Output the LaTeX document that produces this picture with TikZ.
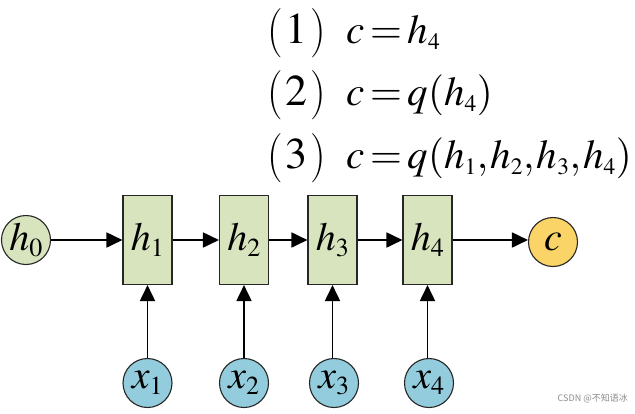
\documentclass[tikz,border=0pt]{standalone}
\usepackage{mathptmx}
\usepackage{fontspec}
\newfontfamily\cjk{Noto Sans CJK SC}
\usetikzlibrary{arrows.meta}
\DeclareMathSizes{44}{44}{26}{20}
\DeclareMathSizes{41}{41}{23.5}{18}
\DeclareMathSizes{40}{40}{26}{19}
\definecolor{cellgreen}{HTML}{D7E4BD}
\definecolor{inblue}{HTML}{93CDDD}
\definecolor{outyellow}{HTML}{FAD466}
\newcommand\tightmath{\thinmuskip=1mu\medmuskip=2mu\thickmuskip=2.5mu}
\newcommand\tallparen[1]{\raisebox{-2.5pt}{\scalebox{1}[1.12]{#1}}}
\newcommand\itemno[1]{\tallparen{(}\kern3pt$#1$\kern3pt\tallparen{)}}
\begin{document}
\begin{tikzpicture}[x=1pt,y=-1pt,
  cell/.style={draw=black!85, line width=1.1pt, fill=cellgreen, minimum width=49pt, minimum height=89pt, inner sep=0pt, font=\fontsize{40}{40}\selectfont},
  ball/.style={circle, draw=black!85, line width=1.1pt, minimum size=49pt, inner sep=0pt, font=\fontsize{40}{40}\selectfont},
  flow/.style={line width=1.8pt, -{Triangle[length=16pt,width=15pt]}},
  num/.style={anchor=base west, inner sep=0pt, font=\fontsize{44}{44}\selectfont},
  eqn/.style={anchor=base west, inner sep=0pt, font=\fontsize{41}{41}\selectfont\tightmath}]
\useasboundingbox (0,0) rectangle (635,413);
% equations
\node[num] (p1) at (267,43) {\itemno{1}};
\node[num] (p2) at (267,105) {\itemno{2}};
\node[num] (p3) at (267,168) {\itemno{3}};
\node[eqn] (e1) at (346,43) {$c=h_4$};
\node[eqn] (e2) at (346,105) {$c=q(h_4)$};
\node[eqn] (e3) at (346,168) {$c=q(h_1,h_2,h_3,h_4)$};
% hidden row
\node[ball, fill=cellgreen] (h0) at (26,240) {$h_0$};
\node[cell] (h1) at (147.5,240) {$h_1$};
\node[cell] (h2) at (244,240) {$h_2$};
\node[cell] (h3) at (332.5,240) {$h_3$};
\node[cell] (h4) at (427.5,240) {$h_4$};
\node[ball, fill=outyellow] (c) at (553,242) {$c$};
% inputs
\node[ball, fill=inblue] (x1) at (147.5,383) {$x_1$};
\node[ball, fill=inblue] (x2) at (244,383) {$x_2$};
\node[ball, fill=inblue] (x3) at (334,383) {$x_3$};
\node[ball, fill=inblue] (x4) at (429,383) {$x_4$};
% connectors
\draw[flow] (h0) -- (h1);
\draw[flow] (h1) -- (h2);
\draw[flow] (h2) -- (h3);
\draw[flow] (h3) -- (h4);
\draw[flow] (h4.east) -- (h4.east -| c.west);
\draw[flow] (x1) -- (h1);
\draw[flow] (x2) -- (h2);
\draw[flow] (x3.north -| h3.south) -- (h3.south);
\draw[flow] (x4.north -| h4.south) -- (h4.south);
% watermark
\node[anchor=base east, text=black!45, font=\cjk\fontsize{9}{9}\selectfont, inner sep=0pt] (wm) at (628,401) {CSDN @不知语冰};
\end{tikzpicture}
\end{document}
